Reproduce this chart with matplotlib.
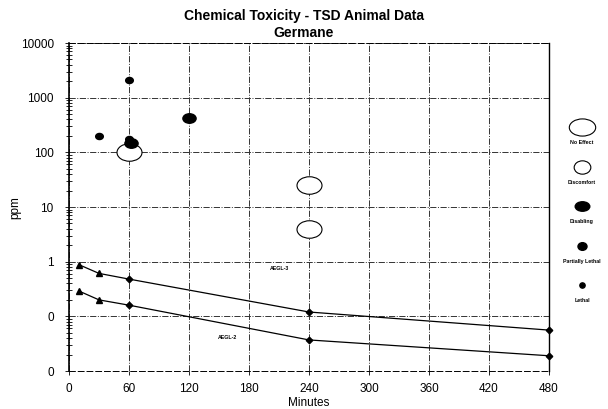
import matplotlib
matplotlib.use('Agg')
import matplotlib.pyplot as plt
import numpy as np
from matplotlib.path import Path

plt.rcParams['font.family'] = ['Liberation Sans', 'DejaVu Sans']

# AEGL curves (minutes, ppm)
aegl_minutes = [10, 30, 60, 240, 480]
aegl3_ppm = [0.88, 0.61, 0.48, 0.12, 0.056]
aegl2_ppm = [0.29, 0.20, 0.16, 0.037, 0.019]
aegl_markers = ['^', '^', 'D', 'D', 'D']

# animal data points
no_effect_min = [60, 240, 240]
no_effect_ppm = [100, 25, 4]
disabling_min = [62, 120]
disabling_ppm = [150, 430]
part_lethal_min = [30, 60, 60]
part_lethal_ppm = [195, 2100, 175]

x_ticks = [0, 60, 120, 180, 240, 300, 360, 420, 480]
y_ticks = [0.01, 0.1, 1, 10, 100, 1000, 10000]
y_tick_labels = ['0', '0', '1', '10', '100', '1000', '10000']

legend_labels = ['No Effect', 'Discomfort', 'Disabling', 'Partially Lethal', 'Lethal']


def ellipse(ratio):
    circ = Path.unit_circle()
    return Path(circ.vertices * np.array([1.0, ratio]), circ.codes)


legend_styles = [
    dict(marker=ellipse(0.65), ms=19, mfc='white', mec='black', mew=0.8),
    dict(marker=ellipse(0.8), ms=12, mfc='white', mec='black', mew=0.8),
    dict(marker=ellipse(0.65), ms=10.5, mfc='black', mec='black'),
    dict(marker=ellipse(0.85), ms=6.5, mfc='black', mec='black'),
    dict(marker='o', ms=3.8, mfc='black', mec='black'),
]

fig = plt.figure(figsize=(6.08, 4.09), dpi=100)
ax = fig.add_axes([69 / 608, 1 - 371 / 409, 480 / 608, 328 / 409])

ax.set_yscale('log')
ax.set_xlim(0, 480)
ax.set_ylim(0.01, 10000)

ax.grid(True, which='major', linestyle='-.', color='#333333', linewidth=0.7)

# AEGL lines
ax.plot(aegl_minutes, aegl3_ppm, color='black', lw=0.9)
ax.plot(aegl_minutes, aegl2_ppm, color='black', lw=0.9)
for m, y3, y2, mk in zip(aegl_minutes, aegl3_ppm, aegl2_ppm, aegl_markers):
    ax.plot([m, m], [y3, y2], linestyle='none', marker=mk, ms=4 if mk == '^' else 3.3,
            color='black', clip_on=False)
ax.text(210, 0.74, 'AEGL-3', fontsize=3.8, fontweight='bold', ha='center', va='center')
ax.text(159, 0.041, 'AEGL-2', fontsize=3.8, fontweight='bold', ha='center', va='center')

# animal data
ax.plot(no_effect_min, no_effect_ppm, linestyle='none', marker=ellipse(0.7), ms=18,
        mfc='white', mec='black', mew=0.8, clip_on=False)
ax.plot(disabling_min, disabling_ppm, linestyle='none', marker=ellipse(0.72), ms=9.5,
        mfc='black', mec='black')
ax.plot(part_lethal_min, part_lethal_ppm, linestyle='none', marker=ellipse(0.8), ms=5.5,
        mfc='black', mec='black')

ax.set_xticks(x_ticks)
ax.set_yticks(y_ticks, y_tick_labels)
ax.tick_params(axis='both', labelsize=8.5, length=3, width=0.6)
ax.tick_params(axis='y', which='minor', direction='inout', length=4, width=0.6, labelleft=False)
ax.tick_params(axis='y', pad=8)
ax.tick_params(axis='x', pad=6)

ax.spines['top'].set_linestyle((0, (6, 3)))
ax.spines['top'].set_linewidth(0.7)
ax.spines['bottom'].set_linestyle((0, (6, 3)))
ax.spines['bottom'].set_linewidth(0.7)
ax.spines['left'].set_linewidth(1.2)
ax.spines['right'].set_linewidth(1.0)

ax.set_xlabel('Minutes', fontsize=8.5, labelpad=1)
fig.text(15 / 608, 1 - 208 / 409, 'ppm', rotation=90, ha='center', va='center', fontsize=8.5)

fig.text(0.5, 1 - 16 / 409, 'Chemical Toxicity - TSD Animal Data', ha='center', va='center',
         fontsize=10, fontweight='bold')
fig.text(0.5, 1 - 33 / 409, 'Germane', ha='center', va='center', fontsize=10, fontweight='bold')

# legend drawn in pixel coordinates to the right of the plot
lax = fig.add_axes([560 / 608, 0, 48 / 608, 1])
lax.set_xlim(560, 608)
lax.set_ylim(409, 0)
lax.axis('off')
for i, (lab, st) in enumerate(zip(legend_labels, legend_styles)):
    y = 127 + 39.5 * i
    lax.plot([582], [y], linestyle='none', clip_on=False, **st)
    lax.text(582, y + 16, lab, fontsize=3.8, fontweight='bold', ha='center', va='center')

fig.savefig('out.png', dpi=100)
